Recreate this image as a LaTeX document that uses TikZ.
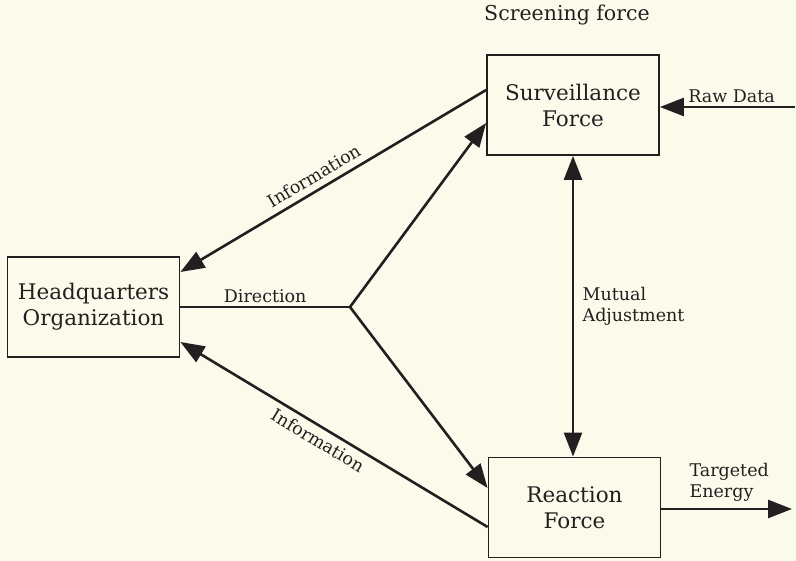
\documentclass[tikz,border=0pt]{standalone}
\usepackage{fontspec}
\setmainfont{DejaVu Serif}
\usetikzlibrary{arrows.meta}
\definecolor{paper}{HTML}{FBFBEC}
\definecolor{ink}{HTML}{231F20}

\begin{document}
\begin{tikzpicture}[x=1pt,y=1pt,
  force/.style={draw=ink,text=ink,line width=1.8pt,minimum width=172pt,minimum height=100pt,
    align=center,font=\fontsize{21.5}{26}\selectfont},
  lbl/.style={text=ink,align=left,font=\fontsize{17.5}{21}\selectfont},
  flow/.style={draw=ink,line width=2.6pt,-{Triangle[length=24pt,width=18pt]}},
  link/.style={draw=ink,line width=2.6pt}]
\fill[paper] (0,0) rectangle (796,-561);
\useasboundingbox (0,0) rectangle (796,-561);

\node[force] (hq) at (93.5,-307) {Headquarters\\Organization};
\node[force] (surv) at (573,-105) {Surveillance\\Force};
\node[force] (react) at (574.5,-507.5) {Reaction\\Force};
\node[text=ink,font=\fontsize{20.5}{24}\selectfont] (screen) at (567,-15) {Screening force};

\coordinate (j) at (350,-307);
\coordinate (raw) at (795,-107);
\coordinate (out) at (792,-509);

\path[link] (hq.east) -- node[lbl,above] {Direction} (j);
\path
  (j) edge[flow] ([yshift=-18pt]surv.west)
      edge[flow] ([yshift=19.5pt]react.west)
  ([yshift=15pt]surv.west) edge[flow] node[lbl,sloped,above=3pt,pos=0.54] {Information} ([yshift=35pt]hq.east)
  ([yshift=-19.5pt]react.west) edge[flow] node[lbl,sloped,below=2pt,pos=0.53] {Information} ([yshift=-35pt]hq.east)
  (raw) edge[flow] node[lbl,above,pos=0.47] {Raw Data} ([yshift=-2pt]surv.east)
  ([yshift=-1.5pt]react.east) edge[flow] (out)
  ;
\path[flow,{Triangle[length=24pt,width=18pt]}-{Triangle[length=24pt,width=18pt]}]
  (surv.south) -- node[lbl,right=5pt] {Mutual\\Adjustment} (surv.south |- react.north);
\node[lbl,anchor=west] (energy) at (686,-482) {Targeted\\Energy};
\end{tikzpicture}
\end{document}
